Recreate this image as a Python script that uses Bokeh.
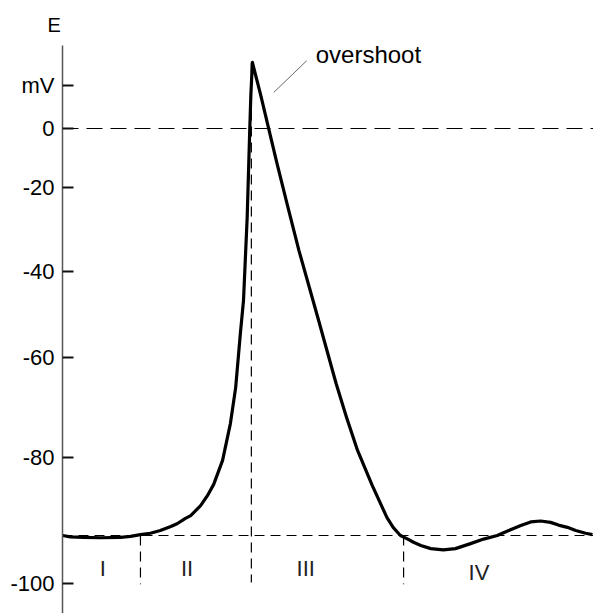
from bokeh.plotting import figure
from bokeh.models import Range1d, FixedTicker, Label
from bokeh.embed import file_html
from bokeh.resources import INLINE

# ---- data (time in arbitrary units, trace in display units) ----
t_phase1 = [0.0, 1.5, 4.0, 7.3, 11.1, 13.0, 14.9]
v_phase1 = [-90.0, -90.3, -90.4, -90.5, -90.4, -90.2, -89.8]

t_phase2 = [16.8, 18.7, 20.7, 21.9, 23.5, 24.5, 26.4, 27.7, 28.9, 30.6, 32.1, 33.1,
            34.0, 34.6, 35.3, 35.8, 36.0, 36.3]
v_phase2 = [-89.5, -88.9, -88.0, -87.4, -86.2, -85.6, -83.4, -81.2, -78.7, -73.4, -65.2,
            -57.3, -45.3, -38.0, -19.7, 0.0, 7.3, 14.6]

t_phase3 = [37.9, 39.4, 41.0, 43.0, 45.2, 48.8, 52.3, 54.3, 56.4, 59.2, 62.0, 63.2, 64.2, 64.6]
v_phase3 = [7.3, 0.0, -7.7, -17.0, -27.0, -41.8, -56.4, -63.9, -71.2, -78.9, -86.0, -88.2,
            -89.5, -90.0]

t_phase4 = [66.0, 67.1, 68.5, 70.4, 72.8, 75.1, 78.0, 80.5, 83.1, 85.3, 87.6, 89.5, 91.4,
            93.3, 94.8, 96.5, 98.1, 100.0, 101.3]
v_phase4 = [-90.8, -91.5, -92.2, -92.9, -93.2, -92.9, -91.8, -90.8, -90.0, -88.9, -87.8,
            -87.0, -86.8, -87.1, -87.7, -88.2, -88.9, -89.5, -89.8]

tick_positions = [9.5, 0.0, -13.0, -31.6, -50.6, -72.8, -100.6]
tick_labels = ["mV", "0", "-20", "-40", "-60", "-80", "-100"]

rest_level = -90.0
zero_level = 0.0
peak_level = 14.6
t_end = 101.5

boundary_t = [14.9, 36.1, 65.2]
boundary_top = [rest_level, peak_level, rest_level]
boundary_bottom = [-100.8, -100.4, -100.8]

phase_names = ["I", "II", "III", "IV"]
phase_t = [7.7, 23.8, 46.5, 79.6]
phase_v = [-97.4, -97.4, -97.4, -98.1]

FONT = "Liberation Sans"

t_all = t_phase1 + t_phase2 + t_phase3 + t_phase4
v_all = v_phase1 + v_phase2 + v_phase3 + v_phase4

p = figure(width=593, height=613, output_backend="svg", toolbar_location=None,
           x_range=Range1d(0, t_end), y_range=Range1d(-107.25, 18.35),
           x_axis_location=None, min_border_left=62, min_border_top=45,
           min_border_right=0, min_border_bottom=0)
p.outline_line_color = None
p.xgrid.visible = False
p.ygrid.visible = False
p.background_fill_color = "white"
p.border_fill_color = "white"

# "E" as the title, placed above the axis
p.title.text = "E"
p.title.align = "left"
p.title.vertical_align = "top"
p.title.offset = -15
p.title.standoff = 16
p.title.text_font = FONT
p.title.text_font_size = "20px"
p.title.text_font_style = "normal"
p.title.text_color = "#000000"

ax = p.yaxis[0]
ax.ticker = FixedTicker(ticks=tick_positions)
ax.major_label_overrides = dict(zip(tick_positions, tick_labels))
ax.major_tick_in = 11
ax.major_tick_out = 0
ax.minor_tick_line_color = None
ax.major_tick_line_width = 2
ax.major_tick_line_color = "#111111"
ax.axis_line_color = "#555555"
ax.axis_line_width = 1.5
ax.major_label_text_font = FONT
ax.major_label_text_font_size = "22px"
ax.major_label_text_color = "#000000"
ax.major_label_standoff = 8

# reference dashed lines
p.segment(x0=[0], y0=[zero_level], x1=[t_end], y1=[zero_level],
          line_color="#000000", line_width=1.2, line_dash="16 8")
p.segment(x0=[0], y0=[rest_level], x1=[t_end], y1=[rest_level],
          line_color="#000000", line_width=1.2, line_dash="10 6")
p.segment(x0=boundary_t, y0=boundary_top, x1=boundary_t, y1=boundary_bottom,
          line_color="#000000", line_width=1.2, line_dash="10 6")

# action potential trace
p.line(t_all, v_all, line_color="#000000", line_width=3.2, line_join="round")

# overshoot leader
p.segment(x0=[46.7], y0=[15.0], x1=[40.4], y1=[8.0], line_color="#666666", line_width=1)

for name, t, v in zip(phase_names, phase_t, phase_v):
    p.add_layout(Label(x=t, y=v, text=name, text_align="center", text_baseline="middle",
                       text_font=FONT, text_font_size="22px", text_color="#222222"))

p.add_layout(Label(x=48.4, y=16.4, text="overshoot", text_align="left",
                   text_baseline="alphabetic", text_font=FONT, text_font_size="24px",
                   text_color="#000000"))

open("out.html", "w").write(file_html(p, INLINE))
